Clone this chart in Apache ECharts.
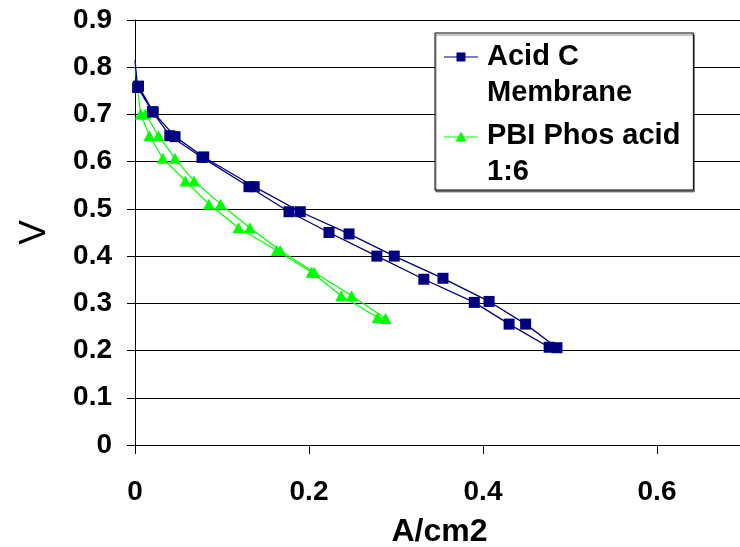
<!DOCTYPE html>
<html>
<head>
<meta charset="utf-8">
<script src="https://cdn.jsdelivr.net/npm/echarts@6/dist/echarts.min.js"></script>
<style>
  html, body { margin: 0; padding: 0; background: #fff; }
  #chart { width: 740px; height: 547px; }
</style>
</head>
<body>
<div id="chart"></div>
<script>
// current density (A/cm2) and cell voltage (V); first point is open circuit (no marker)
const acidCA = [0, 0.003, 0.020, 0.040, 0.077, 0.131, 0.177, 0.223, 0.278, 0.332, 0.390, 0.430, 0.476,
  0.485, 0.449, 0.407, 0.354, 0.298, 0.246, 0.190, 0.137, 0.079, 0.046, 0.021, 0.004]
const acidCV = [0.815, 0.757, 0.706, 0.655, 0.609, 0.547, 0.494, 0.450, 0.400, 0.351, 0.302, 0.256, 0.207,
  0.206, 0.256, 0.304, 0.353, 0.400, 0.447, 0.494, 0.547, 0.610, 0.653, 0.705, 0.760]

const pbiA = [0, 0.0065, 0.0165, 0.032, 0.058, 0.085, 0.119, 0.163, 0.203, 0.237, 0.279,
  0.288, 0.249, 0.206, 0.167, 0.132, 0.0985, 0.068, 0.046, 0.027, 0.012]
const pbiV = [0.800, 0.701, 0.655, 0.607, 0.559, 0.510, 0.460, 0.412, 0.366, 0.316, 0.270,
  0.268, 0.316, 0.366, 0.412, 0.460, 0.510, 0.559, 0.607, 0.655, 0.701]

const seriesNames = ['Acid C\nMembrane', 'PBI Phos acid\n1:6']
const xTicks = { min: 0, max: 0.7, interval: 0.2 }
const yTicks = { min: 0, max: 0.9, interval: 0.1 }

const FONT = "'Liberation Sans', Arial, sans-serif"

// legend icons: line + marker sitting on the first text line (34 x 46 box)
const ANCHORS = 'M0 0L0.01 0L0 0.01Z M34 46L33.99 46L34 45.99Z'
const squareIcon = 'path://M0 4.5L34 4.5L34 5.5L0 5.5Z M12.5 0.5L21.5 0.5L21.5 9.5L12.5 9.5Z ' + ANCHORS
const triangleIcon = 'path://M0 5.5L34 5.5L34 6.5L0 6.5Z M17 0.5L22.5 10.5L11.5 10.5Z ' + ANCHORS

const toPoints = (xs, ys) => xs.map((x, i) => (i === 0
  ? { value: [x, ys[i]], symbol: 'none' }
  : [x, ys[i]]))

const chart = echarts.init(document.getElementById('chart'))

chart.setOption({
  animation: false,
  backgroundColor: '#fff',
  grid: { left: 135, right: -4, top: 20, bottom: 102, outerBoundsMode: 'none', containLabel: false },
  legend: {
    orient: 'vertical',
    left: 435,
    top: 33,
    padding: [6, 13, 0, 9],
    itemGap: 7,
    itemWidth: 34,
    itemHeight: 46,
    backgroundColor: '#fff',
    borderColor: '#000',
    borderWidth: 1,
    shadowColor: 'rgba(0,0,0,0.45)',
    shadowOffsetX: 1,
    shadowOffsetY: 2,
    textStyle: {
      fontFamily: FONT,
      fontWeight: 'bold',
      fontSize: 29,
      color: '#000',
      lineHeight: 36,
      padding: [0, 0, 0, 4]
    },
    data: [
      { name: seriesNames[0], icon: squareIcon },
      { name: seriesNames[1], icon: triangleIcon }
    ]
  },
  xAxis: {
    type: 'value',
    min: xTicks.min,
    max: xTicks.max,
    interval: xTicks.interval,
    name: 'A/cm2',
    nameLocation: 'middle',
    nameGap: 71,
    nameTextStyle: { fontFamily: FONT, fontWeight: 'bold', fontSize: 32, color: '#000' },
    axisLine: { show: true, lineStyle: { color: '#000', width: 1 } },
    axisTick: { show: true, length: 9, lineStyle: { color: '#000' } },
    axisLabel: {
      margin: 33,
      showMaxLabel: false,
      fontFamily: FONT, fontWeight: 'bold', fontSize: 28, color: '#000'
    },
    splitLine: { show: false }
  },
  yAxis: {
    type: 'value',
    min: yTicks.min,
    max: yTicks.max,
    interval: yTicks.interval,
    name: 'V',
    nameLocation: 'middle',
    nameRotate: 90,
    nameGap: 82,
    nameTextStyle: { fontFamily: FONT, fontSize: 37, color: '#000' },
    axisLine: { show: true, lineStyle: { color: '#000', width: 1 } },
    axisTick: { show: true, length: 8, lineStyle: { color: '#000' } },
    axisLabel: { margin: 23, fontFamily: FONT, fontWeight: 'bold', fontSize: 28, color: '#000' },
    splitLine: { show: true, lineStyle: { color: '#000', width: 1 } }
  },
  series: [
    {
      name: seriesNames[0],
      type: 'line',
      data: toPoints(acidCA, acidCV),
      symbol: 'rect',
      symbolSize: 11,
      showAllSymbol: true,
      clip: false,
      lineStyle: { color: '#000080', width: 1.3 },
      itemStyle: { color: '#000080', borderWidth: 0 },
      z: 3
    },
    {
      name: seriesNames[1],
      type: 'line',
      data: toPoints(pbiA, pbiV),
      symbol: 'triangle',
      symbolSize: [12, 11],
      showAllSymbol: true,
      clip: false,
      lineStyle: { color: '#00ff00', width: 1.2 },
      itemStyle: { color: '#00ff00', borderWidth: 0 },
      z: 2
    }
  ]
})
</script>
</body>
</html>
